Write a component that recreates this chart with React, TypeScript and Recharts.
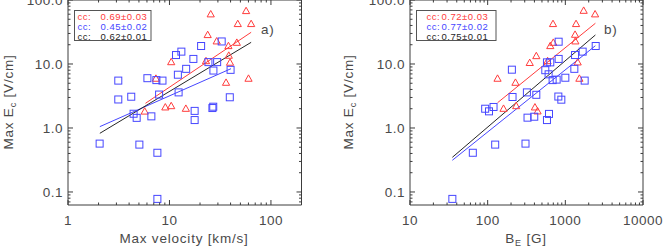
import React from 'react';
import { ScatterChart, Scatter, XAxis, YAxis } from 'recharts';

// panel a) : max velocity [km/s] vs max Ec [V/cm]
const redVelocity = [25.5, 56.9, 47.1, 63.8, 23.8, 29.2, 38.1, 46.1, 10.4, 22.9, 38.4, 39.5, 7.35, 36.1, 60.1, 5.7, 9.1, 10.4, 14.5];
const redEcA = [59.8, 67.3, 42.2, 42.2, 28.4, 22.6, 19.1, 21.5, 10.7, 11.1, 13.5, 10.5, 5.9, 5.1, 5.9, 1.81, 2.1, 2.2, 2.0];
const blueVelocity = [2.05, 3.13, 3.13, 4.2, 4.43, 4.75, 5.05, 6.06, 6.63, 7.43, 8.53, 7.9, 7.6, 7.6, 11.6, 13.1, 12.1, 14.6, 12.3, 20.5, 32.7, 17.2, 24.2, 29.5, 27.1, 40, 39.3, 17.7, 17.7, 26.5, 27.0];
const blueEcA = [0.57, 5.5, 2.79, 3.08, 1.67, 1.44, 0.55, 6.0, 1.52, 5.6, 5.5, 3.33, 0.41, 0.078, 13.8, 15.6, 6.8, 8.4, 3.6, 19.1, 22.5, 12.0, 10.7, 10.7, 7.9, 8.1, 3.02, 1.85, 1.33, 2.05, 2.15];

// panel b) : B_E [G] vs max Ec [V/cm]
const redBE = [134, 228, 160, 233, 348, 1722, 2416, 694, 1374, 1334, 1346, 700, 640, 423, 591, 1442, 1517, 406, 439];
const redEcB = [5.9, 5.1, 2.0, 2.2, 10.4, 68, 59.8, 42.2, 42.2, 28.7, 22.6, 21.5, 19.1, 13.3, 11.1, 10.6, 5.9, 2.1, 1.82];
const blueBE = [35.1, 64.4, 125, 307, 92.9, 104, 119, 205, 209, 320, 326, 398, 423, 616, 580, 820, 1672, 2460, 1334, 820, 580, 640, 1306, 552, 609, 686, 773, 1000, 1774, 813, 888];
const blueEcB = [0.078, 0.41, 0.55, 0.57, 2.0, 1.82, 2.13, 8.15, 3.05, 3.6, 1.45, 1.5, 3.3, 1.66, 1.33, 22.3, 15.6, 19.1, 13.8, 12.0, 10.6, 10.6, 8.4, 8.0, 6.9, 5.6, 5.7, 6.1, 5.5, 3.1, 2.77];

// fit lines (end points)
const fitRedA = { x: [5.8, 63.8], y: [2.43, 31.3] };
const fitBlueA = { x: [2.06, 40.4], y: [1.05, 8.45] };
const fitBlackA = { x: [2.06, 63.8], y: [0.826, 21.8] };
const fitRedB = { x: [134, 2438], y: [2.48, 43.3] };
const fitBlueB = { x: [35.1, 2438], y: [0.313, 19.3] };
const fitBlackB = { x: [35.1, 2438], y: [0.348, 28.4] };

const ccA = ['0.69±0.03', '0.45±0.02', '0.62±0.01'];
const ccB = ['0.72±0.03', '0.77±0.02', '0.75±0.01'];

const yMajor = [0.1, 1, 10, 100];
const yLabels = ['0.1', '1.0', '10.0', '100.0'];
const xMajorA = [1, 10, 100];
const xLabelsA = ['1', '10', '100'];
const xMajorB = [10, 100, 1000, 10000];
const xLabelsB = ['10', '100', '1000', '10000'];

const AX = '#3c3c3c';
const TXT = '#4a4a4a';
const RED = '#ff3c3c';
const BLUE = '#4646ff';
const BLACK = '#262626';
const FONT = '"Liberation Sans", Arial, sans-serif';

const zip = (xs: number[], ys: number[]) => xs.map((x, i) => ({ x, y: ys[i] }));

const logTicks = (lo: number, hi: number) => {
  const out: number[] = [];
  for (let d = Math.floor(Math.log10(lo)); d <= Math.ceil(Math.log10(hi)); d++) {
    for (let m = 1; m < 10; m++) {
      const v = +(m * Math.pow(10, d)).toPrecision(6);
      if (v >= lo * 0.9999 && v <= hi * 1.0001) out.push(v);
    }
  }
  return out;
};

const makeTick = (side: string, majors: number[], labels?: string[]) => (p: any) => {
  const { x, y, payload } = p;
  const v = payload.value;
  const i = majors.findIndex((m) => Math.abs(m - v) / m < 1e-6);
  const len = i >= 0 ? 5 : 2.5;
  let ln;
  if (side === 'bottom') ln = <line x1={x} x2={x} y1={y} y2={y - len} stroke={AX} />;
  else if (side === 'top') ln = <line x1={x} x2={x} y1={y} y2={y + len} stroke={AX} />;
  else if (side === 'left') ln = <line x1={x} x2={x + len} y1={y} y2={y} stroke={AX} />;
  else ln = <line x1={x} x2={x - len} y1={y} y2={y} stroke={AX} />;
  let label = null;
  if (labels && i >= 0) {
    label =
      side === 'bottom' ? (
        <text x={x} y={y + 20} textAnchor="middle" fill={TXT} fontSize={13.5} letterSpacing={0.5} fontFamily={FONT}>
          {labels[i]}
        </text>
      ) : (
        <text x={x - 5} y={y + 5} textAnchor="end" fill={TXT} fontSize={13.5} letterSpacing={0.5} fontFamily={FONT}>
          {labels[i]}
        </text>
      );
  }
  return (
    <g>
      {ln}
      {label}
    </g>
  );
};

const Triangle = (p: any) => (
  <path
    d={`M${p.cx - 3.6},${p.cy + 2.6} L${p.cx + 3.6},${p.cy + 2.6} L${p.cx},${p.cy - 3.8} Z`}
    fill="none"
    stroke={RED}
    strokeWidth={1}
  />
);
const Square = (p: any) => (
  <rect x={p.cx - 3.5} y={p.cy - 3.5} width={7} height={7} fill="none" stroke={BLUE} strokeWidth={1} />
);
const NoDot = () => <g />;

const yDomain = [0.0626, 100];
const yTicks = logTicks(0.07, 100);

interface PanelProps {
  left: number;
  width: number;
  margin: { top: number; left: number; right: number; bottom: number };
  xDomain: number[];
  xMajor: number[];
  xLabels: string[];
  red: { x: number; y: number }[];
  blue: { x: number; y: number }[];
  fits: { data: { x: number; y: number }[]; color: string }[];
}

// axes are 1px thick so recharts still draws them; margins are reduced by 1 to compensate
const Panel = ({ left, width, margin, xDomain, xMajor, xLabels, red, blue, fits }: PanelProps) => {
  const xTicks = logTicks(xDomain[0], xDomain[1]);
  return (
    <div style={{ position: 'absolute', left, top: 0 }}>
      <ScatterChart width={width} height={247} margin={margin} style={{ overflow: 'visible' }}>
        <XAxis
          xAxisId="b"
          dataKey="x"
          type="number"
          scale="log"
          domain={xDomain}
          allowDataOverflow
          ticks={xTicks}
          interval={0}
          height={1}
          tickSize={0}
          tickMargin={0}
          stroke={AX}
          tick={makeTick('bottom', xMajor, xLabels)}
        />
        <XAxis
          xAxisId="t"
          orientation="top"
          dataKey="x"
          type="number"
          scale="log"
          domain={xDomain}
          allowDataOverflow
          ticks={xTicks}
          interval={0}
          height={1}
          tickSize={0}
          tickMargin={0}
          stroke={AX}
          tick={makeTick('top', xMajor)}
        />
        <YAxis
          yAxisId="l"
          dataKey="y"
          type="number"
          scale="log"
          domain={yDomain}
          allowDataOverflow
          ticks={yTicks}
          interval={0}
          width={1}
          tickSize={0}
          tickMargin={0}
          stroke={AX}
          tick={makeTick('left', yMajor, yLabels)}
        />
        <YAxis
          yAxisId="r"
          orientation="right"
          dataKey="y"
          type="number"
          scale="log"
          domain={yDomain}
          allowDataOverflow
          ticks={yTicks}
          interval={0}
          width={1}
          tickSize={0}
          tickMargin={0}
          stroke={AX}
          tick={makeTick('right', yMajor)}
        />
        <Scatter xAxisId="t" yAxisId="r" data={[]} shape={NoDot} isAnimationActive={false} />
        {fits.map((f, i) => (
          <Scatter
            key={i}
            xAxisId="b"
            yAxisId="l"
            data={f.data}
            fill="none"
            line={{ stroke: f.color, strokeWidth: 1 }}
            shape={NoDot}
            isAnimationActive={false}
          />
        ))}
        <Scatter xAxisId="b" yAxisId="l" data={red} shape={Triangle} isAnimationActive={false} />
        <Scatter xAxisId="b" yAxisId="l" data={blue} shape={Square} isAnimationActive={false} />
      </ScatterChart>
    </div>
  );
};

const LegendBox = ({ x, w, ccX, numX, values }: { x: number; w: number; ccX: number; numX: number; values: string[] }) => {
  const colors = [RED, BLUE, BLACK];
  return (
    <g fontFamily={FONT} fontSize={9.5} letterSpacing={0.5}>
      <rect x={x + 0.5} y={10.5} width={w} height={30} fill="#fff" stroke="#555" />
      {values.map((v, i) => (
        <g key={i} fill={colors[i]}>
          <text x={ccX} y={19.5 + i * 10.2}>cc:</text>
          <text x={numX} y={19.5 + i * 10.2}>{v}</text>
        </g>
      ))}
    </g>
  );
};

const App = () => {
  return (
    <div style={{ position: 'absolute', left: 0, top: 0, width: 665, height: 247, background: '#fff' }}>
      <Panel
        left={0}
        width={310}
        margin={{ top: -1, left: 67, right: 7.5, bottom: 41 }}
        xDomain={[1, 200]}
        xMajor={xMajorA}
        xLabels={xLabelsA}
        red={zip(redVelocity, redEcA)}
        blue={zip(blueVelocity, blueEcA)}
        fits={[
          { data: zip(fitRedA.x, fitRedA.y), color: RED },
          { data: zip(fitBlueA.x, fitBlueA.y), color: BLUE },
          { data: zip(fitBlackA.x, fitBlackA.y), color: BLACK },
        ]}
      />
      <Panel
        left={340}
        width={325}
        margin={{ top: -1, left: 69, right: 21, bottom: 41 }}
        xDomain={[10, 10000]}
        xMajor={xMajorB}
        xLabels={xLabelsB}
        red={zip(redBE, redEcB)}
        blue={zip(blueBE, blueEcB)}
        fits={[
          { data: zip(fitRedB.x, fitRedB.y), color: RED },
          { data: zip(fitBlueB.x, fitBlueB.y), color: BLUE },
          { data: zip(fitBlackB.x, fitBlackB.y), color: BLACK },
        ]}
      />
      <svg width={665} height={247} style={{ position: 'absolute', left: 0, top: 0, pointerEvents: 'none' }}>
        <LegendBox x={74} w={76.5} ccX={77.5} numX={100.5} values={ccA} />
        <LegendBox x={416} w={79.5} ccX={426.5} numX={441.5} values={ccB} />
        <g fontFamily={FONT} fontSize={13.5} fill={TXT} letterSpacing={0.8}>
          <text x={261} y={34}>a)</text>
          <text x={604} y={34}>b)</text>
          <text transform="translate(13,102) rotate(-90)" textAnchor="middle">
            Max E<tspan dy={3} fontSize={9}>c</tspan>
            <tspan dy={-3}> [V/cm]</tspan>
          </text>
          <text transform="translate(353,102) rotate(-90)" textAnchor="middle">
            Max E<tspan dy={3} fontSize={9}>c</tspan>
            <tspan dy={-3}> [V/cm]</tspan>
          </text>
          <text x={184} y={243} textAnchor="middle">Max velocity [km/s]</text>
          <text x={526} y={243} textAnchor="middle">
            B<tspan dy={3} fontSize={9}>E</tspan>
            <tspan dy={-3}> [G]</tspan>
          </text>
        </g>
      </svg>
    </div>
  );
};

export default App;
